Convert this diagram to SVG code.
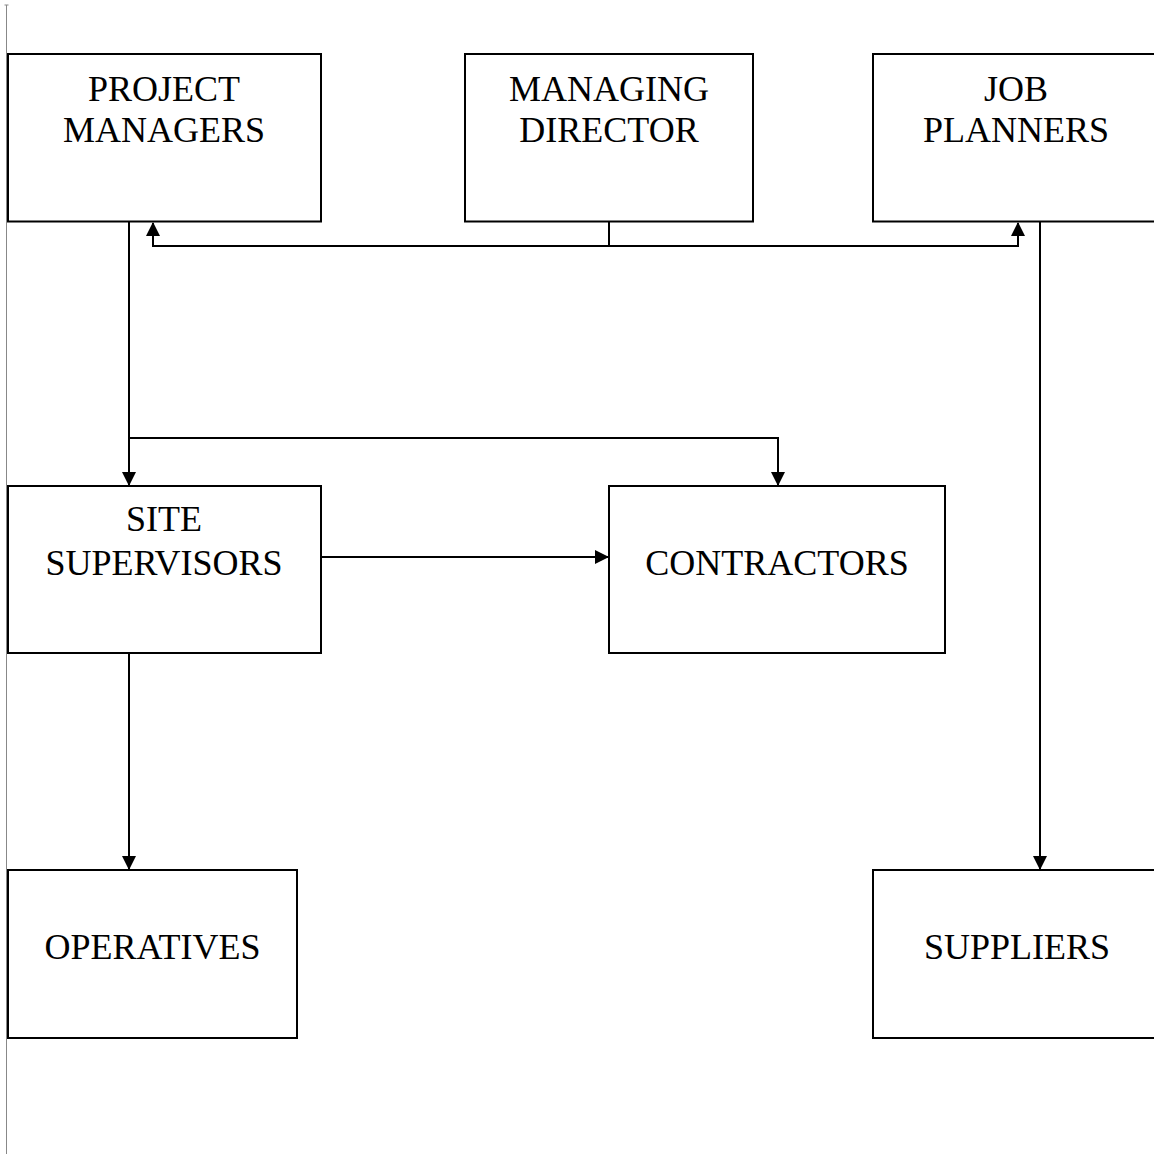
<svg xmlns="http://www.w3.org/2000/svg" width="1154" height="1154" viewBox="0 0 1154 1154">
<style>
.box{fill:#fff;stroke:#000;stroke-width:2}
.lbl{font-family:"Liberation Serif","Times New Roman",serif;font-size:36px;fill:#000;text-anchor:middle}
.con{fill:none;stroke:#000;stroke-width:2}
</style>
<defs>
<marker id="arr" markerWidth="14" markerHeight="14" refX="13" refY="7" orient="auto" markerUnits="userSpaceOnUse">
<path d="M0,0 L14,7 L0,14 Z" fill="#000"/>
</marker>
</defs>
<rect width="1154" height="1154" fill="#fff"/>
<g id="margin">
<line x1="6.5" y1="5" x2="6.5" y2="1154" stroke="#888" stroke-width="1"/>
<line x1="4.5" y1="5" x2="8.5" y2="5" stroke="#888" stroke-width="1"/>
</g>
<g id="connectors">
<polyline class="con" points="609,222 609,246"/>
<polyline class="con" points="1018,246 153,246 153,223" marker-end="url(#arr)"/>
<polyline class="con" points="153,246 1018,246 1018,223" marker-end="url(#arr)"/>
<polyline class="con" points="129,222 129,485" marker-end="url(#arr)"/>
<polyline class="con" points="129,438 778,438 778,485" marker-end="url(#arr)"/>
<polyline class="con" points="322,557 608,557" marker-end="url(#arr)"/>
<polyline class="con" points="129,654 129,869" marker-end="url(#arr)"/>
<polyline class="con" points="1040,222 1040,869" marker-end="url(#arr)"/>
</g>
<g id="project-managers">
<rect class="box" x="8" y="54" width="313" height="167.5"/>
<text class="lbl" x="164" y="100.5">PROJECT</text>
<text class="lbl" x="164" y="141.5">MANAGERS</text>
</g>
<g id="managing-director">
<rect class="box" x="465" y="54" width="288" height="167.5"/>
<text class="lbl" x="609" y="100.5">MANAGING</text>
<text class="lbl" x="609" y="141.5">DIRECTOR</text>
</g>
<g id="job-planners">
<rect class="box" x="873" y="54" width="288" height="167.5"/>
<text class="lbl" x="1016" y="100.5">JOB</text>
<text class="lbl" x="1016" y="141.5">PLANNERS</text>
</g>
<g id="site-supervisors">
<rect class="box" x="8" y="486" width="313" height="167"/>
<text class="lbl" x="164" y="531">SITE</text>
<text class="lbl" x="164" y="574.5">SUPERVISORS</text>
</g>
<g id="contractors">
<rect class="box" x="609" y="486" width="336" height="167"/>
<text class="lbl" x="777" y="574.5">CONTRACTORS</text>
</g>
<g id="operatives">
<rect class="box" x="8" y="870" width="289" height="168"/>
<text class="lbl" x="152.5" y="958.5">OPERATIVES</text>
</g>
<g id="suppliers">
<rect class="box" x="873" y="870" width="288" height="168"/>
<text class="lbl" x="1017" y="958.5">SUPPLIERS</text>
</g>
</svg>
